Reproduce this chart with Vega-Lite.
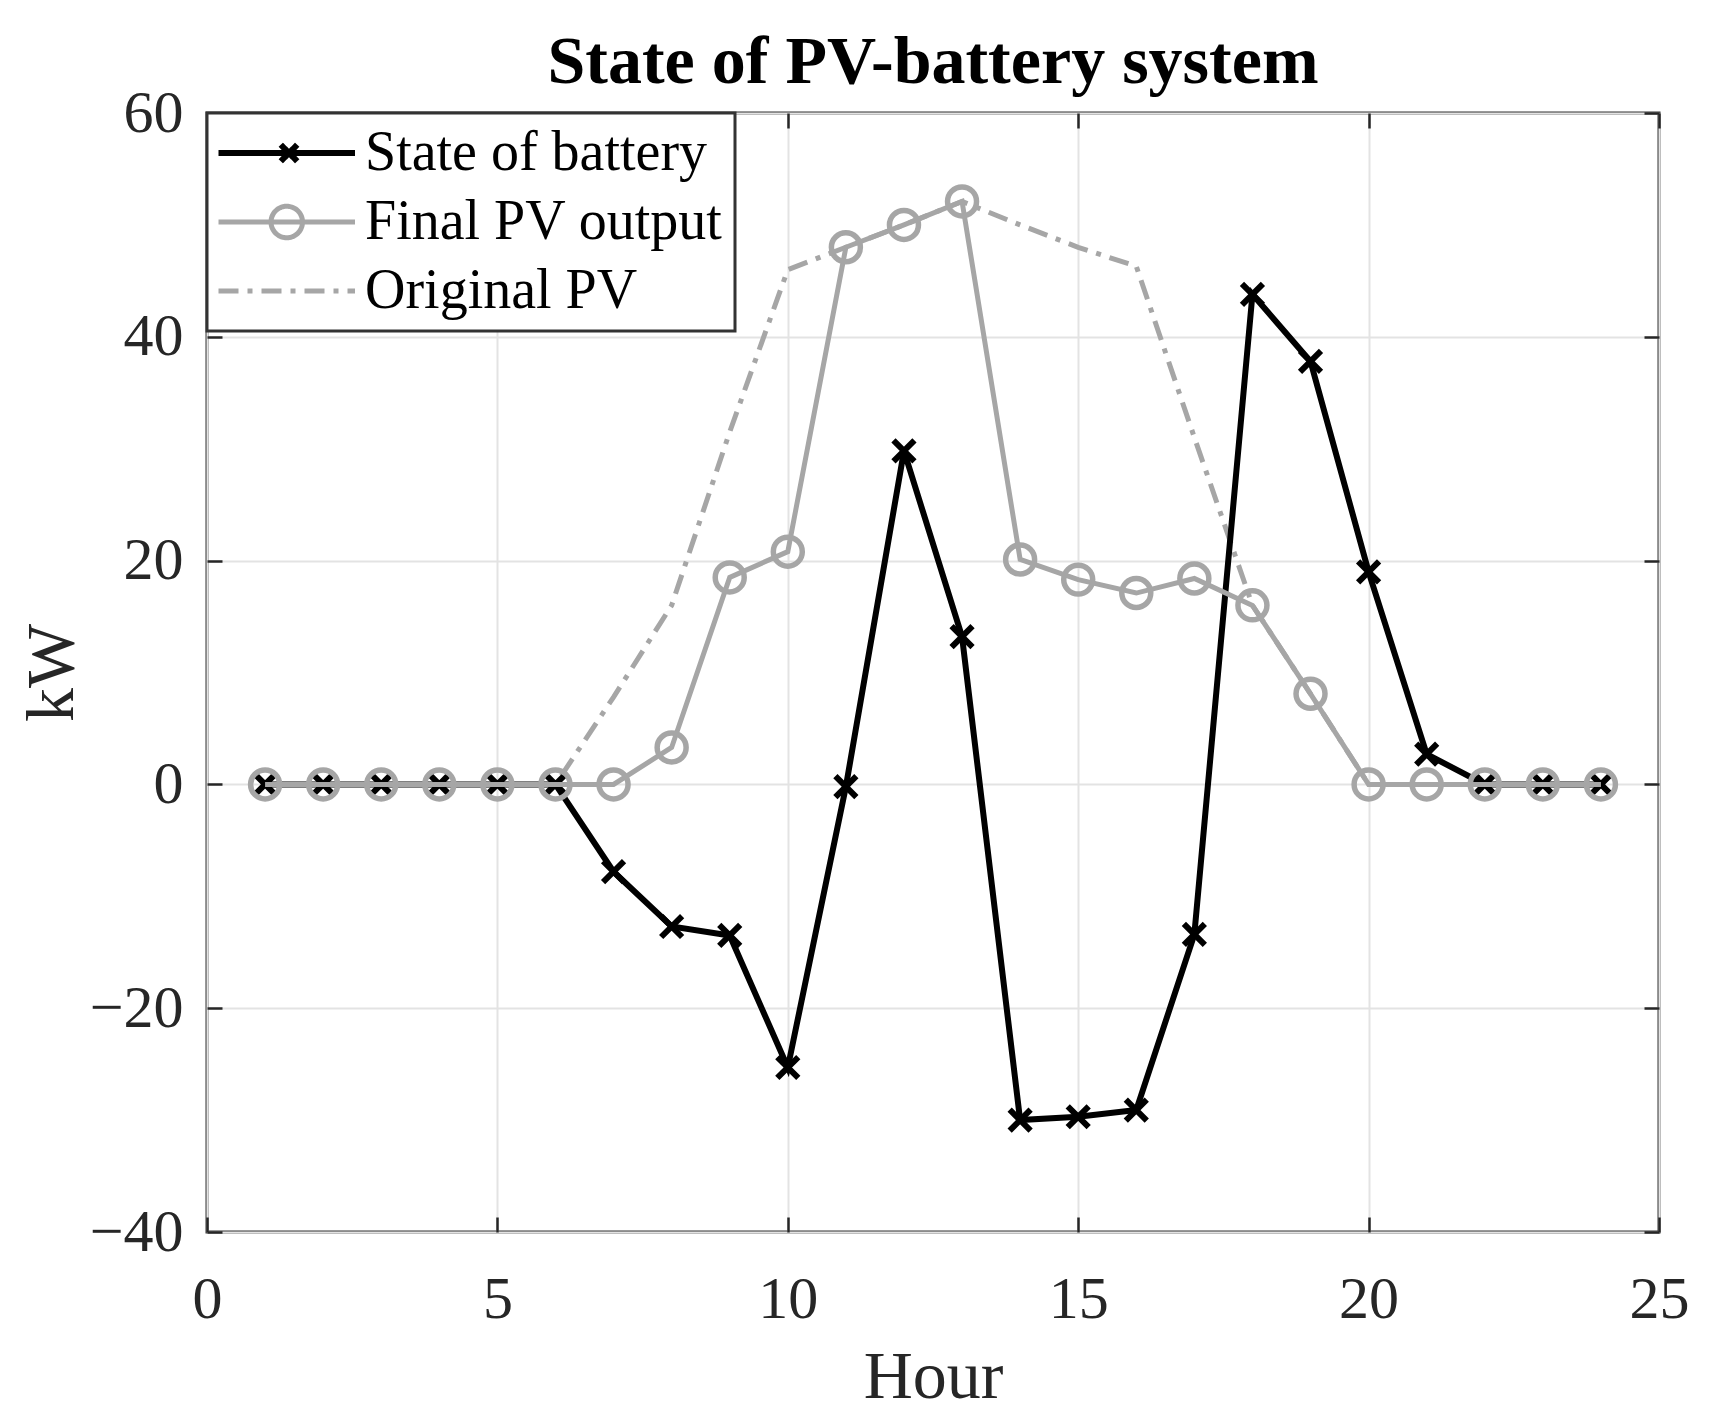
{
  "$schema": "https://vega.github.io/schema/vega-lite/v6.json",
  "width": 1452,
  "height": 1119,
  "autosize": {"type": "none"},
  "padding": {"left": 207, "top": 113, "right": 58, "bottom": 187},
  "background": "white",
  "title": {
    "text": "State of PV-battery system",
    "font": "Liberation Serif",
    "fontSize": 68,
    "fontWeight": "bold",
    "color": "black",
    "anchor": "middle",
    "frame": "group",
    "offset": 16,
    "dy": 30
  },
  "data": {
    "values": [
      {"h": 1, "s": "State of battery", "v": 0},
      {"h": 2, "s": "State of battery", "v": 0},
      {"h": 3, "s": "State of battery", "v": 0},
      {"h": 4, "s": "State of battery", "v": 0},
      {"h": 5, "s": "State of battery", "v": 0},
      {"h": 6, "s": "State of battery", "v": 0},
      {"h": 7, "s": "State of battery", "v": -7.8},
      {"h": 8, "s": "State of battery", "v": -12.7},
      {"h": 9, "s": "State of battery", "v": -13.5},
      {"h": 10, "s": "State of battery", "v": -25.3},
      {"h": 11, "s": "State of battery", "v": -0.2},
      {"h": 12, "s": "State of battery", "v": 29.8},
      {"h": 13, "s": "State of battery", "v": 13.2},
      {"h": 14, "s": "State of battery", "v": -30},
      {"h": 15, "s": "State of battery", "v": -29.7},
      {"h": 16, "s": "State of battery", "v": -29.1},
      {"h": 17, "s": "State of battery", "v": -13.4},
      {"h": 18, "s": "State of battery", "v": 43.8},
      {"h": 19, "s": "State of battery", "v": 37.8},
      {"h": 20, "s": "State of battery", "v": 19},
      {"h": 21, "s": "State of battery", "v": 2.7},
      {"h": 22, "s": "State of battery", "v": 0},
      {"h": 23, "s": "State of battery", "v": 0},
      {"h": 24, "s": "State of battery", "v": 0},
      {"h": 1, "s": "Final PV output", "v": 0},
      {"h": 2, "s": "Final PV output", "v": 0},
      {"h": 3, "s": "Final PV output", "v": 0},
      {"h": 4, "s": "Final PV output", "v": 0},
      {"h": 5, "s": "Final PV output", "v": 0},
      {"h": 6, "s": "Final PV output", "v": 0},
      {"h": 7, "s": "Final PV output", "v": 0},
      {"h": 8, "s": "Final PV output", "v": 3.3},
      {"h": 9, "s": "Final PV output", "v": 18.5},
      {"h": 10, "s": "Final PV output", "v": 20.8},
      {"h": 11, "s": "Final PV output", "v": 48},
      {"h": 12, "s": "Final PV output", "v": 50},
      {"h": 13, "s": "Final PV output", "v": 52.1},
      {"h": 14, "s": "Final PV output", "v": 20.1},
      {"h": 15, "s": "Final PV output", "v": 18.3},
      {"h": 16, "s": "Final PV output", "v": 17.1},
      {"h": 17, "s": "Final PV output", "v": 18.4},
      {"h": 18, "s": "Final PV output", "v": 16},
      {"h": 19, "s": "Final PV output", "v": 8.1},
      {"h": 20, "s": "Final PV output", "v": 0},
      {"h": 21, "s": "Final PV output", "v": 0},
      {"h": 22, "s": "Final PV output", "v": 0},
      {"h": 23, "s": "Final PV output", "v": 0},
      {"h": 24, "s": "Final PV output", "v": 0},
      {"h": 1, "s": "Original PV", "v": 0},
      {"h": 2, "s": "Original PV", "v": 0},
      {"h": 3, "s": "Original PV", "v": 0},
      {"h": 4, "s": "Original PV", "v": 0},
      {"h": 5, "s": "Original PV", "v": 0},
      {"h": 6, "s": "Original PV", "v": 0},
      {"h": 7, "s": "Original PV", "v": 7.8},
      {"h": 8, "s": "Original PV", "v": 16},
      {"h": 9, "s": "Original PV", "v": 31.5},
      {"h": 10, "s": "Original PV", "v": 46},
      {"h": 11, "s": "Original PV", "v": 48},
      {"h": 12, "s": "Original PV", "v": 50},
      {"h": 13, "s": "Original PV", "v": 52.1},
      {"h": 14, "s": "Original PV", "v": 50},
      {"h": 15, "s": "Original PV", "v": 48},
      {"h": 16, "s": "Original PV", "v": 46.3},
      {"h": 17, "s": "Original PV", "v": 31},
      {"h": 18, "s": "Original PV", "v": 16},
      {"h": 19, "s": "Original PV", "v": 8.1},
      {"h": 20, "s": "Original PV", "v": 0},
      {"h": 21, "s": "Original PV", "v": 0},
      {"h": 22, "s": "Original PV", "v": 0},
      {"h": 23, "s": "Original PV", "v": 0},
      {"h": 24, "s": "Original PV", "v": 0}
    ]
  },
  "layer": [
    {
      "transform": [{"filter": "datum.s === 'Original PV'"}],
      "mark": {"type": "line", "strokeWidth": 5, "strokeDash": [20, 9, 5, 9]},
      "encoding": {
        "x": {
          "field": "h", "type": "quantitative",
          "scale": {"domain": [0, 25], "nice": false, "zero": false},
          "axis": {
            "orient": "bottom", "title": "Hour", "values": [0, 5, 10, 15, 20, 25],
            "grid": true, "ticks": false, "labelPadding": 85, "labelBaseline": "alphabetic",
            "titleBaseline": "alphabetic", "titlePadding": 68, "labelFlush": false
          }
        },
        "y": {
          "field": "v", "type": "quantitative",
          "scale": {"domain": [-40, 60], "nice": false, "zero": false},
          "axis": {
            "orient": "left", "title": "kW", "values": [-40, -20, 0, 20, 40, 60],
            "grid": true, "ticks": false, "labelPadding": 24,
            "labelExpr": "replace(datum.label, '-', '\u2212')",
            "titleBaseline": "alphabetic", "titlePadding": 17, "labelFlush": false
          }
        },
        "color": {
          "field": "s", "type": "nominal",
          "scale": {
            "domain": ["State of battery", "Final PV output", "Original PV"],
            "range": ["#000000", "#a6a6a6", "#a6a6a6"]
          },
          "legend": {
            "title": null,
            "orient": "top-left",
            "offset": 0,
            "padding": 12,
            "strokeColor": "#333333",
            "fillColor": "white",
            "labelFont": "Liberation Serif",
            "labelFontSize": 56,
            "labelColor": "black",
            "labelLimit": 800,
            "symbolSize": 900,
            "labelOffset": 90,
            "rowPadding": 13,
            "encode": {
              "legend": {"update": {"strokeWidth": {"value": 3}}},
              "symbols": {
                "update": {
                  "shape": {"signal": "datum.value === 'State of battery' ? 'M-1.9,0L7.2,0M2.25,-0.55L3.35,0.55M2.25,0.55L3.35,-0.55' : datum.value === 'Final PV output' ? 'M-1.9,0L7.2,0M3.7,0A1.05,1.05,0,1,1,1.6,0A1.05,1.05,0,1,1,3.7,0' : 'M-1.9,0L7.2,0'"},
                  "strokeWidth": {"signal": "datum.value === 'State of battery' ? 6 : 5"},
                  "strokeDash": {"signal": "datum.value === 'Original PV' ? [20, 9, 5, 9] : [1, 0]"},
                  "fill": {"value": "transparent"}
                }
              }
            }
          }
        }
      }
    },
    {
      "transform": [{"filter": "datum.s === 'State of battery'"}],
      "mark": {"type": "line", "strokeWidth": 6},
      "encoding": {
        "x": {
          "field": "h", "type": "quantitative",
          "scale": {"domain": [0, 25], "nice": false, "zero": false},
          "axis": {
            "orient": "bottom", "title": null, "labels": false, "grid": false, "domain": false,
            "values": [0, 5, 10, 15, 20, 25], "tickSize": 15, "offset": -15
          }
        },
        "y": {
          "field": "v", "type": "quantitative",
          "scale": {"domain": [-40, 60], "nice": false, "zero": false},
          "axis": {
            "orient": "left", "title": null, "labels": false, "grid": false, "domain": false,
            "values": [-40, -20, 0, 20, 40, 60], "tickSize": 15, "offset": -15
          }
        },
        "color": {"field": "s", "type": "nominal"}
      }
    },
    {
      "transform": [{"filter": "datum.s === 'State of battery'"}],
      "mark": {
        "type": "point", "shape": "M-1,-1L1,1M-1,1L1,-1", "filled": false,
        "stroke": "#000000", "strokeWidth": 6, "size": 440, "opacity": 1
      },
      "encoding": {
        "x": {
          "field": "h", "type": "quantitative",
          "scale": {"domain": [0, 25], "nice": false, "zero": false},
          "axis": {
            "orient": "top", "title": null, "labels": false, "grid": false, "domain": false,
            "values": [0, 5, 10, 15, 20, 25], "tickSize": 15, "offset": -15
          }
        },
        "y": {
          "field": "v", "type": "quantitative",
          "scale": {"domain": [-40, 60], "nice": false, "zero": false},
          "axis": {
            "orient": "right", "title": null, "labels": false, "grid": false, "domain": false,
            "values": [-40, -20, 0, 20, 40, 60], "tickSize": 15, "offset": -15
          }
        }
      }
    },
    {
      "transform": [{"filter": "datum.s === 'Final PV output'"}],
      "mark": {"type": "line", "strokeWidth": 5},
      "encoding": {
        "x": {"field": "h", "type": "quantitative", "axis": null},
        "y": {"field": "v", "type": "quantitative", "axis": null},
        "color": {"field": "s", "type": "nominal"}
      }
    },
    {
      "transform": [{"filter": "datum.s === 'Final PV output'"}],
      "mark": {
        "type": "point", "shape": "circle", "filled": false,
        "stroke": "#a6a6a6", "strokeWidth": 5.5, "size": 840, "opacity": 1
      },
      "encoding": {
        "x": {"field": "h", "type": "quantitative", "axis": null},
        "y": {"field": "v", "type": "quantitative", "axis": null}
      }
    }
  ],
  "resolve": {"axis": {"x": "independent", "y": "independent"}},
  "config": {
    "view": {"stroke": "#333333", "strokeWidth": 3},
    "axis": {
      "labelFont": "Liberation Serif",
      "titleFont": "Liberation Serif",
      "labelFontSize": 60,
      "titleFontSize": 68,
      "titleFontWeight": "normal",
      "labelColor": "#262626",
      "titleColor": "#262626",
      "domain": false,
      "tickColor": "#262626",
      "tickWidth": 2.5,
      "gridColor": "#e3e3e3",
      "gridWidth": 2
    }
  }
}
